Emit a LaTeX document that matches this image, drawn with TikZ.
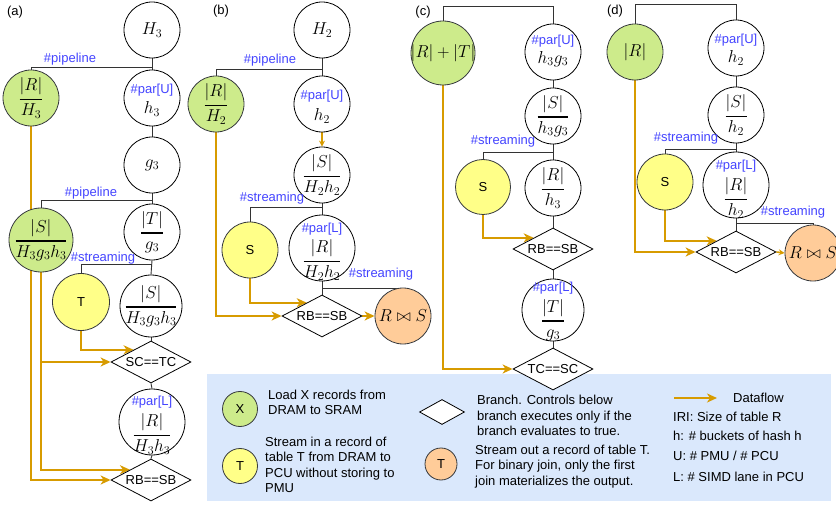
\documentclass[tikz,border=0pt]{standalone}
\usepackage{amsmath}
\usepackage[no-math]{fontspec}
\setmainfont{Liberation Sans}
\usetikzlibrary{shapes.geometric,arrows.meta,calc}
\pgfdeclarelayer{back}
\pgfdeclarelayer{bg}
\pgfsetlayers{back,bg,main}
\definecolor{gfill}{HTML}{CDEB8B}
\definecolor{yfill}{HTML}{FFFF88}
\definecolor{ofill}{HTML}{FFCC99}
\definecolor{oline}{HTML}{D79B00}
\definecolor{bluetxt}{HTML}{4444FF}
\definecolor{legbg}{HTML}{DAE8FC}
\definecolor{cline}{HTML}{333333}
\definecolor{cborder}{HTML}{36393D}
\newcommand\mfs{\fontsize{17}{20}\selectfont}
\newcommand\tfs{\fontsize{13}{15.3}\selectfont}
\newcommand\fr[2]{\genfrac{}{}{1.2pt}{0}{#1}{#2}}
\tikzset{
  base/.style={circle, inner sep=0pt, line width=0.8pt},
  wc/.style={base, draw=black, fill=white, minimum size=#1}, wc/.default=56,
  gc/.style={base, draw=cborder, fill=gfill, minimum size=#1}, gc/.default=56,
  yc/.style={base, draw=cborder, fill=yfill, minimum size=#1}, yc/.default=56,
  oc/.style={base, draw=cborder, fill=ofill, minimum size=#1}, oc/.default=56,
  dia/.style={diamond, draw=black, fill=white, line width=0.8pt, inner sep=0pt, aspect=2,
    minimum width=80pt, minimum height=42pt, font=\tfs},
  ldia/.style={diamond, draw=black, fill=white, line width=0.8pt, inner sep=0pt, aspect=2,
    minimum width=45pt, minimum height=25pt},
  mt/.style={inner sep=0pt, font=\mfs},
  st/.style={inner sep=0pt, font=\tfs},
  bl/.style={inner sep=0pt, font=\tfs, text=bluetxt},
  lt/.style={inner sep=0pt, font=\tfs, align=left, anchor=west},
  con/.style={draw=cline, line width=0.9pt},
  flowline/.style={draw=oline, line width=1.6pt},
  flow/.style={flowline, -{Stealth[length=10pt,width=9pt,inset=3pt]}},
  flows/.style={flowline, -{Stealth[length=6pt,width=6pt,inset=2pt]}},
}
\begin{document}
\begin{tikzpicture}[x=1pt,y=-1pt]
\useasboundingbox (0,0) rectangle (836,505);
\clip (0,0) rectangle (836,505);
\begin{pgfonlayer}{back}
\fill[legbg] (207,374) rectangle (831,501);
\end{pgfonlayer}

% ---------------- panel (a)
\node[st] (pa) at (15,12) {(a)};
\node[wc] (H3a) at (152,30) {};
\node[mt] (H3at) at (H3a) {$H_3$};
\node[gc] (Ra) at (31,98) {};
\node[mt] (Rat) at (Ra) {$\fr{|R|}{H_3}$};
\node[wc] (h3a) at (152,98) {};
\node[bl] (h3al) at (152,90) {\#par[U]};
\node[mt] (h3am) at (152,109) {$h_3$};
\node[wc] (g3a) at (152,165) {};
\node[mt] (g3at) at (g3a) {$g_3$};
\node[gc=64] (Sa) at (41,240) {};
\node[mt] (Sat) at (Sa) {$\fr{|S|}{H_3g_3h_3}$};
\node[wc] (Tga) at (152,232) {};
\node[mt] (Tgat) at (Tga) {$\fr{|T|}{g_3}$};
\node[yc=57] (Ta) at (81,302) {};
\node[st] (Tat) at (Ta) {T};
\node[wc=62] (S2a) at (151,306) {};
\node[mt] (S2at) at (S2a) {$\fr{|S|}{H_3g_3h_3}$};
\node[dia] (d1a) at (151,362) {SC==TC};
\node[wc=66] (RLa) at (152,422) {};
\node[bl] (RLal) at (152,402) {\#par[L]};
\node[mt] (RLam) at (152,434) {$\fr{|R|}{H_3h_3}$};
\node[dia] (d2a) at (151,480) {RB==SB};
\node[bl] (pla1) at (70,59) {\#pipeline};
\node[bl] (pla2) at (91,193) {\#pipeline};
\node[bl] (sta1) at (103,258) {\#streaming};

% ---------------- panel (b)
\node[st] (pb) at (221,11) {(b)};
\node[wc] (H2b) at (322,30) {};
\node[mt] (H2bt) at (H2b) {$H_2$};
\node[gc] (Rb) at (216,104) {};
\node[mt] (Rbt) at (Rb) {$\fr{|R|}{H_2}$};
\node[wc] (h2b) at (322,104) {};
\node[bl] (h2bl) at (322,96) {\#par[U]};
\node[mt] (h2bm) at (322,116) {$h_2$};
\node[wc] (Sb) at (322,175) {};
\node[mt] (Sbt) at (Sb) {$\fr{|S|}{H_2h_2}$};
\node[yc] (Syb) at (250,250) {};
\node[st] (Sybt) at (Syb) {S};
\node[wc=66] (RLb) at (322,248) {};
\node[bl] (RLbl) at (322,229) {\#par[L]};
\node[mt] (RLbm) at (322,260) {$\fr{|R|}{H_2h_2}$};
\node[dia] (diab) at (322,316) {RB==SB};
\node[oc] (RSb) at (403,316) {};
\node[mt] (RSbt) at (RSb) {$R\bowtie S$};
\node[bl] (plb1) at (270,60) {\#pipeline};
\node[bl] (stb1) at (272,198) {\#streaming};
\node[bl] (stb2) at (381,274) {\#streaming};

% ---------------- panel (c)
\node[st] (pc) at (423,12) {(c)};
\node[gc=64] (Gc) at (443,53) {};
\node[mt] (Gct) at (Gc) {$|R|+|T|$};
\node[wc] (Uc) at (553,52) {};
\node[bl] (Ucl) at (553,41) {\#par[U]};
\node[mt] (Ucm) at (553,59) {$h_3g_3$};
\node[wc] (Sc) at (553,116) {};
\node[mt] (Sct) at (Sc) {$\fr{|S|}{h_3g_3}$};
\node[yc=55] (Syc) at (483,187) {};
\node[st] (Syct) at (Syc) {S};
\node[wc] (Rc) at (553,188) {};
\node[mt] (Rct) at (Rc) {$\fr{|R|}{h_3}$};
\node[dia] (diac1) at (553,249) {RB==SB};
\node[wc=62] (Tc) at (553,310) {};
\node[bl] (Tcl) at (553,288) {\#par[L]};
\node[mt] (Tcm) at (553,320) {$\fr{|T|}{g_3}$};
\node[dia] (diac2) at (553,369) {TC==SC};
\node[bl] (stc1) at (503,141) {\#streaming};

% ---------------- panel (d)
\node[st] (pd) at (615,11) {(d)};
\node[gc] (Gd) at (635,52) {};
\node[mt] (Gdt) at (Gd) {$|R|$};
\node[wc] (Ud) at (736,48) {};
\node[bl] (Udl) at (736,40) {\#par[U]};
\node[mt] (Udm) at (736,58) {$h_2$};
\node[wc] (Sd) at (736,115) {};
\node[mt] (Sdt) at (Sd) {$\fr{|S|}{h_2}$};
\node[yc] (Syd) at (665,182) {};
\node[st] (Sydt) at (Syd) {S};
\node[wc=66] (RLd) at (736,185) {};
\node[bl] (RLdl) at (736,166) {\#par[L]};
\node[mt] (RLdm) at (736,198) {$\fr{|R|}{h_2}$};
\node[dia] (diad) at (736,252) {RB==SB};
\node[oc] (RSd) at (813,253) {};
\node[mt] (RSdt) at (RSd) {$R\bowtie S$};
\node[bl] (std1) at (686,138) {\#streaming};
\node[bl] (std2) at (793,212) {\#streaming};

% ---------------- legend
\node[gc=35] (lgX) at (240,409) {};
\node[st] (lgXt) at (lgX) {X};
\node[lt] (lgXd) at (268,402.5) {Load X records from\\DRAM to SRAM};
\node[yc=35] (lgT) at (240,466) {};
\node[st] (lgTt) at (lgT) {T};
\node[lt] (lgTd) at (265,465) {Stream in a record of\\table T from DRAM to\\PCU without storing to\\PMU};
\node[ldia] (lgD) at (442,412) {};
\node[lt] (lgDd) at (477,415.5) {Branch. Controls below\\branch executes only if the\\branch evaluates to true.};
\node[oc=32] (lgO) at (441,464) {};
\node[st] (lgOt) at (lgO) {T};
\node[lt] (lgOd) at (475,466.5) {Stream out a record of table T.\\For binary join, only the first\\join materializes the output.};
\coordinate (lf1) at (674,398);
\coordinate (lf2) at (717,398);
\node[lt] (lgF) at (733,398) {Dataflow};
\node[lt] (lg1) at (673,417) {IRI: Size of table R};
\node[lt] (lg2) at (673,436) {h: \# buckets of hash h};
\node[lt] (lg3) at (673,456) {U: \# PMU / \# PCU};
\node[lt] (lg4) at (673,477) {L: \# SIMD lane in PCU};

% ---------------- connectors
\begin{pgfonlayer}{bg}
% (a)
\coordinate (ja1) at (152,67);
\coordinate (ja2) at (152,200);
\coordinate (ja3) at (152,264);
\draw[con] (H3a.south) -- (h3a.north);
\draw[con] (ja1) -| (Ra.north);
\draw[con] (h3a.south) -- (g3a.north);
\draw[con] (g3a.south) -- (Tga.north);
\draw[con] (ja2) -| (Sa.north);
\draw[con] (Tga.south) -- (S2a.north);
\draw[con] (ja3) -| (Ta.north);
\draw[con] (S2a.south) -- (d1a.north);
\draw[con] (d1a.south) -- (RLa.north);
\draw[con] (RLa.south) -- (d2a.north);
\draw[flow] (Ra.south) |- (d2a.west);
\draw[flow] (Sa.south) |- (d2a.154.5);
\draw[flow] (Sa.south) |- (d1a.west);
\draw[flow] (Ta.south) |- (d1a.145);
% (b)
\coordinate (jb1) at (322,69);
\coordinate (jb2) at (322,207);
\coordinate (jb3) at (322,288);
\draw[con] (H2b.south) -- (h2b.north);
\draw[con] (jb1) -| (Rb.north);
\draw[flows] (h2b.south) -- (Sb.north);
\draw[con] (Sb.south) -- (RLb.north);
\draw[con] (jb2) -| (Syb.north);
\draw[con] (RLb.south) -- (diab.north);
\draw[con] (jb3) -| (RSb.north);
\draw[flow] (Syb.south) |- (diab.139.5);
\draw[flow] (Rb.south) |- (diab.west);
\draw[flow] (diab.east) -- (RSb.west);
% (c)
\coordinate (jc1) at (553,6);
\coordinate (jc3) at (553,152);
\draw[con] (Gc.north) |- (jc1) -- (Uc.north);
\draw[con] (Uc.south) -- (Sc.north);
\draw[con] (Sc.south) -- (Rc.north);
\draw[con] (jc3) -| (Syc.north);
\draw[con] (Rc.south) -- (diac1.north);
\draw[con] (diac1.south) -- (Tc.north);
\draw[con] (Tc.south) -- (diac2.north);
\draw[flow] (Syc.south) |- (diac1.150);
\draw[flow] (Gc.south) |- (diac2.west);
% (d)
\coordinate (jd1) at (736,4);
\coordinate (jd2) at (736,149);
\coordinate (jd3) at (736,223);
\draw[con] (Gd.north) |- (jd1) -- (Ud.north);
\draw[con] (Ud.south) -- (Sd.north);
\draw[con] (Sd.south) -- (RLd.north);
\draw[con] (jd2) -| (Syd.north);
\draw[con] (RLd.south) -- (diad.north);
\draw[con] (jd3) -| (RSd.north);
\draw[flow] (Syd.south) |- (diad.150);
\draw[flow] (Gd.south) |- (diad.west);
\draw[flows] (diad.east) -- (RSd.west);
% legend
\draw[flow] (lf1) -- (lf2);
\end{pgfonlayer}
\end{tikzpicture}
\end{document}
